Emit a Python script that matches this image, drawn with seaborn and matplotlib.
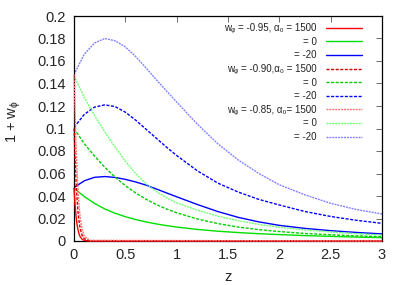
import matplotlib
matplotlib.use("Agg")
import matplotlib.pyplot as plt
import matplotlib.ticker as mticker
import seaborn as sns
import pandas as pd

# ---- data ----
z = [0, 0.1, 0.2, 0.3, 0.4, 0.5, 0.6, 0.7, 0.8, 0.9, 1.0,
     1.2, 1.4, 1.6, 1.8, 2.0, 2.25, 2.5, 2.75, 3.0]
z_red = [0, 0.01, 0.02, 0.03, 0.04, 0.05, 0.06, 0.08, 0.1, 0.15, 3.0]

# w_phi = -0.95
red_095 = [0.047, 0.033, 0.022, 0.0145, 0.0095, 0.006, 0.0038, 0.0015, 0.0005, 0.0, 0.0]
green_095 = [0.047, 0.0395, 0.0334, 0.0285, 0.0247, 0.0216, 0.0191, 0.0170, 0.0152, 0.0137, 0.0124,
             0.0103, 0.0087, 0.0075, 0.0065, 0.0057, 0.0048, 0.0041, 0.0035, 0.0030]
blue_095 = [0.0475, 0.0535, 0.0566, 0.0573, 0.0565, 0.0548, 0.0525, 0.0497, 0.0463, 0.0428, 0.0393,
            0.0325, 0.0262, 0.0210, 0.0170, 0.0139, 0.0112, 0.0092, 0.0076, 0.0063]
# w_phi = -0.90
red_090 = [0.100, 0.075, 0.053, 0.037, 0.025, 0.017, 0.0112, 0.0048, 0.002, 0.0002, 0.0]
green_090 = [0.100, 0.0865, 0.0755, 0.0655, 0.0568, 0.0492, 0.0427, 0.0372, 0.0325, 0.0285, 0.0251,
             0.0196, 0.0155, 0.0124, 0.0101, 0.0084, 0.0067, 0.0055, 0.0045, 0.0038]
blue_090 = [0.101, 0.1125, 0.119, 0.121, 0.1195, 0.1145, 0.1075, 0.0995, 0.0915, 0.0835, 0.0760,
            0.0625, 0.0515, 0.0435, 0.0370, 0.0320, 0.0262, 0.0218, 0.0184, 0.0157]
# w_phi = -0.85
red_085 = [0.148, 0.115, 0.085, 0.062, 0.044, 0.031, 0.021, 0.010, 0.0045, 0.0006, 0.0]
green_085 = [0.147, 0.1275, 0.1115, 0.097, 0.0835, 0.071, 0.060, 0.051, 0.044, 0.0385, 0.034,
             0.0274, 0.0221, 0.0180, 0.0148, 0.0122, 0.0098, 0.0080, 0.0065, 0.0053]
blue_085 = [0.148, 0.166, 0.176, 0.180, 0.178, 0.1725, 0.164, 0.154, 0.1435, 0.1335, 0.1235,
            0.104, 0.0865, 0.072, 0.060, 0.050, 0.041, 0.0335, 0.028, 0.024]

labels = [
    "w\u1d69 = -0.95, \u03b1\u2080 = 1500", "= 0", "= -20",
    "w\u1d69 = -0.90,\u03b1\u2080 = 1500", "= 0", "= -20",
    "w\u1d69 = -0.85, \u03b1\u2080= 1500", "= 0", "= -20",
]

sns.set_style("white")
plt.rcParams["font.family"] = ["Liberation Sans", "DejaVu Sans", "Noto Sans"]
plt.rcParams["mathtext.fontset"] = "custom"
plt.rcParams["mathtext.rm"] = "Liberation Sans"
plt.rcParams["mathtext.it"] = "Liberation Sans"

fig = plt.figure(figsize=(4.07, 2.85), dpi=100)
ax = fig.add_axes([74/407, 1-241/285, 308/407, 225/285])

dash_b = (0, (2.2, 1.1))
dash_c = (0, (1.4, 0.7))
series = [
    (z_red, red_095, "#ff0000", "-", 1.0, True),
    (z, green_095, "#00e000", "-", 1.0, False),
    (z, blue_095, "#0000ff", "-", 1.0, False),
    (z_red, red_090, "#d00000", dash_b, 1.0, True),
    (z, green_090, "#00d000", dash_b, 1.0, False),
    (z, blue_090, "#0000ff", dash_b, 1.0, False),
    (z_red, red_085, "#ff7070", dash_c, 1.0, True),
    (z, green_085, "#70ff70", dash_c, 1.0, False),
    (z, blue_085, "#8080ff", dash_c, 1.0, False),
]
for (xs, ys, c, ls, lw, is_red), lab in zip(series, labels):
    df = pd.DataFrame({"z": xs, "w": ys})
    sns.lineplot(data=df, x="z", y="w", color=c, linestyle=ls, linewidth=lw,
                 label=lab, ax=ax, zorder=3 if is_red else 2, clip_on=not is_red)

ax.set_xlim(0, 3)
ax.set_ylim(0, 0.2)
ax.xaxis.set_major_locator(mticker.MultipleLocator(0.5))
ax.yaxis.set_major_locator(mticker.MultipleLocator(0.02))
fmt = mticker.FuncFormatter(lambda v, p: "%g" % round(v, 4))
ax.xaxis.set_major_formatter(fmt)
ax.yaxis.set_major_formatter(fmt)
ax.tick_params(direction="in", length=4, width=0.6, color="#555555",
               top=True, right=True, labelsize=10.5)
ax.tick_params(axis="y", pad=6)
ax.tick_params(axis="x", pad=5)
for s in ax.spines.values():
    s.set_color("black")
    s.set_linewidth(0.9)

ax.set_xlabel("z", fontsize=10.5)
ax.set_ylabel(r"1 + w$_\phi$", fontsize=10.5)
ax.yaxis.set_label_coords(-0.164, 0.53)
ax.xaxis.labelpad = 6

leg = ax.legend(loc="upper right", bbox_to_anchor=(0.948, 0.985), frameon=False,
                markerfirst=False, fontsize=7, handlelength=3.7,
                handletextpad=1.0, labelspacing=0.37, borderaxespad=0.0)
for t in leg.get_texts():
    t.set_color("#222222")

fig.savefig("out.png", dpi=100)
